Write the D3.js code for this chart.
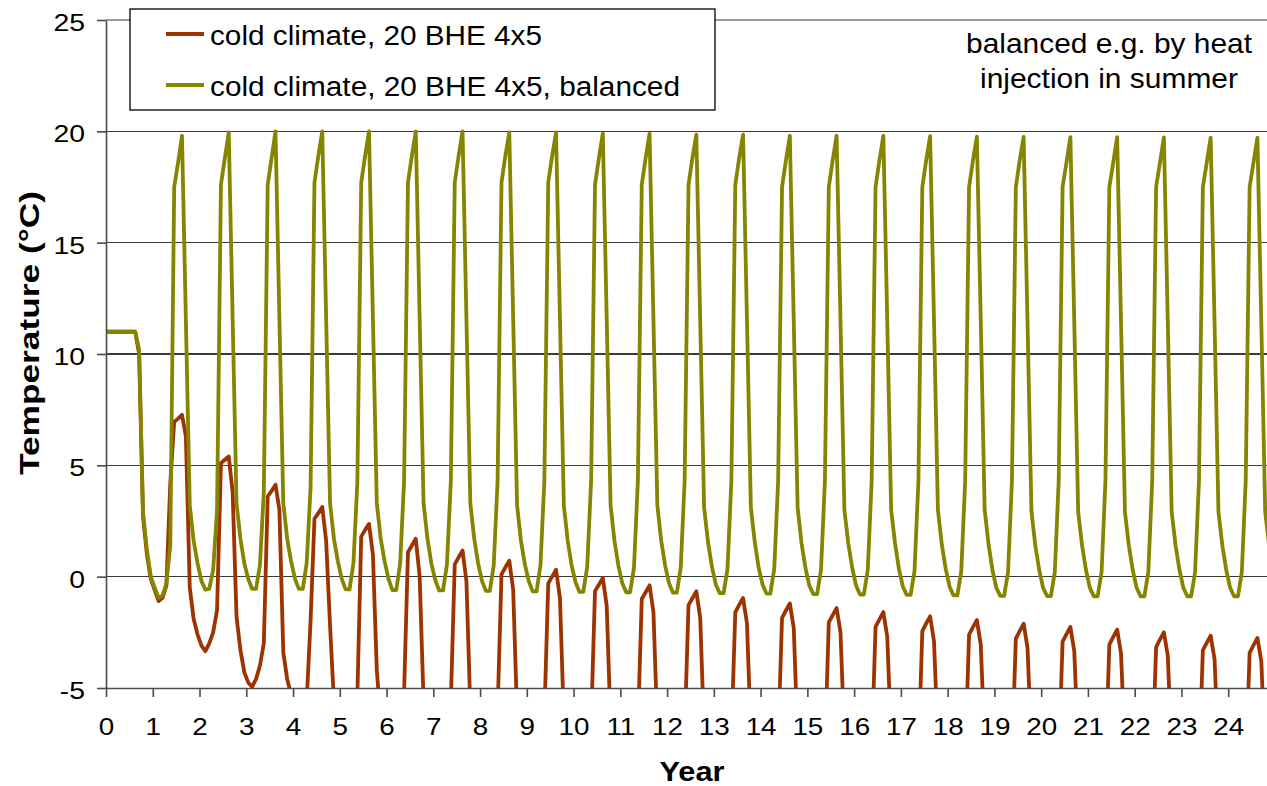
<!DOCTYPE html>
<html><head><meta charset="utf-8">
<script src="https://cdn.jsdelivr.net/npm/d3@7"></script>
<style>
body{margin:0;background:#fff}
svg{display:block}
text{font-family:"Liberation Sans",Arial,sans-serif;fill:#000}
</style>
</head><body>
<svg id="chart" width="1267" height="786"></svg>
<script>
// ---- data ----
const xTickValues = [0,1,2,3,4,5,6,7,8,9,10,11,12,13,14,15,16,17,18,19,20,21,22,23,24];
const yTickValues = [-5,0,5,10,15,20,25];
const startTemp = 11; // value at year 0
// monthly values (12 per year), one row per simulation year
const coldRows = [
  [11,11,11,11,11,11,11,11,10.0,2.7,1.0,-0.1],
  [-0.6,-1.1,-0.95,-0.4,4.2,6.95,7.1,7.27,6.3,-0.5,-1.9,-2.6],
  [-3.1,-3.35,-3.0,-2.5,-1.5,5.1,5.25,5.4,3.8,-1.8,-3.3,-4.3],
  [-4.75,-4.95,-4.6,-4.0,-3.0,3.6,3.85,4.13,3.0,-3.4,-4.6,-5.3],
  [-5.8,-6.0,-5.8,-5.6,-2.0,2.6,2.85,3.13,1.6,-2.2,-5.6,-6.2],
  [-6.8,-7.0,-6.8,-6.3,-5.4,1.8,2.1,2.37,1.0,-4.2,-6.5,-7.0],
  [-7.6,-7.8,-7.6,-6.8,-5.2,1.1,1.4,1.7,0.0,-5.6,-7.0,-7.7],
  [-8.3,-8.5,-8.3,-7.5,-5.6,0.55,0.87,1.17,-0.2,-5.9,-7.6,-8.4],
  [-9.0,-9.1,-8.9,-8.1,-6.0,0.1,0.42,0.72,-0.6,-6.2,-8.0,-8.8],
  [-9.3,-9.5,-9.3,-8.5,-6.3,-0.3,0.0,0.31,-0.95,-6.4,-8.3,-9.1],
  [-9.6,-9.8,-9.6,-8.8,-6.6,-0.65,-0.36,-0.06,-1.3,-6.6,-8.5,-9.3],
  [-9.8,-10.0,-9.8,-9.0,-6.8,-1.0,-0.7,-0.39,-1.6,-6.8,-8.7,-9.5],
  [-10.0,-10.2,-10.0,-9.2,-7.0,-1.28,-0.97,-0.66,-1.85,-7.0,-8.9,-9.7],
  [-10.2,-10.4,-10.2,-9.4,-7.2,-1.6,-1.27,-0.96,-2.1,-7.1,-9.0,-9.8],
  [-10.3,-10.5,-10.3,-9.5,-7.4,-1.85,-1.52,-1.2,-2.3,-7.2,-9.1,-9.9],
  [-10.4,-10.6,-10.4,-9.6,-7.8,-2.05,-1.73,-1.41,-2.5,-7.2,-9.2,-10.0],
  [-10.5,-10.7,-10.5,-9.7,-7.9,-2.25,-1.92,-1.59,-2.7,-7.3,-9.3,-10.1],
  [-10.6,-10.8,-10.6,-9.8,-8.0,-2.45,-2.1,-1.78,-2.9,-7.4,-9.4,-10.2],
  [-10.7,-10.9,-10.7,-9.9,-8.1,-2.6,-2.27,-1.95,-3.05,-7.5,-9.5,-10.3],
  [-10.8,-11.0,-10.8,-10.0,-8.2,-2.78,-2.44,-2.11,-3.2,-7.6,-9.6,-10.4],
  [-10.9,-11.1,-10.9,-10.1,-8.3,-2.92,-2.58,-2.26,-3.35,-7.7,-9.7,-10.5],
  [-11.0,-11.2,-11.0,-10.2,-8.4,-3.05,-2.7,-2.38,-3.45,-7.8,-9.8,-10.6],
  [-11.1,-11.3,-11.1,-10.3,-8.5,-3.17,-2.82,-2.5,-3.55,-7.9,-9.9,-10.7],
  [-11.2,-11.4,-11.2,-10.4,-8.6,-3.3,-2.97,-2.65,-3.7,-8.0,-10.0,-10.8],
  [-11.3,-11.5,-11.3,-10.5,-8.7,-3.42,-3.08,-2.75,-3.8,-8.1,-10.1,-10.9]
];
const balancedRows = [
  [11,11,11,11,11,11,11,11,10.2,2.9,1.2,0.0],
  [-0.5,-0.95,-0.85,-0.3,1.4,17.5,18.6,19.8,11.5,3.2,1.6,0.6],
  [-0.2,-0.58,-0.55,0.3,3.0,17.6,18.8,19.95,11.6,3.3,1.7,0.6],
  [-0.1,-0.55,-0.55,0.5,3.8,17.6,18.8,20.0,11.6,3.3,1.7,0.7],
  [-0.1,-0.55,-0.55,0.6,4.0,17.7,18.9,20.0,11.6,3.3,1.7,0.7],
  [-0.1,-0.57,-0.57,0.6,4.2,17.7,18.9,20.0,11.6,3.3,1.7,0.7],
  [-0.1,-0.6,-0.6,0.6,4.3,17.7,18.9,20.0,11.6,3.3,1.7,0.6],
  [-0.15,-0.62,-0.62,0.55,4.3,17.7,18.9,20.0,11.6,3.3,1.7,0.6],
  [-0.2,-0.64,-0.64,0.5,4.3,17.7,18.9,19.95,11.6,3.2,1.6,0.55],
  [-0.2,-0.66,-0.66,0.5,4.3,17.7,18.9,19.95,11.6,3.2,1.6,0.5],
  [-0.25,-0.68,-0.68,0.45,4.3,17.6,18.8,19.9,11.6,3.2,1.6,0.5],
  [-0.3,-0.7,-0.7,0.4,4.3,17.6,18.8,19.9,11.5,3.2,1.6,0.5],
  [-0.3,-0.72,-0.72,0.4,4.3,17.6,18.8,19.85,11.5,3.1,1.55,0.45],
  [-0.35,-0.74,-0.74,0.35,4.3,17.6,18.8,19.85,11.5,3.1,1.55,0.4],
  [-0.35,-0.76,-0.76,0.35,4.3,17.5,18.7,19.8,11.5,3.1,1.5,0.4],
  [-0.4,-0.78,-0.78,0.3,4.3,17.5,18.7,19.8,11.5,3.0,1.5,0.4],
  [-0.4,-0.8,-0.8,0.3,4.3,17.5,18.7,19.8,11.5,3.0,1.5,0.35],
  [-0.45,-0.82,-0.82,0.25,4.3,17.5,18.7,19.78,11.5,3.0,1.45,0.35],
  [-0.45,-0.84,-0.84,0.25,4.3,17.5,18.7,19.76,11.5,3.0,1.45,0.3],
  [-0.5,-0.86,-0.86,0.2,4.3,17.5,18.7,19.75,11.4,2.95,1.4,0.3],
  [-0.5,-0.87,-0.87,0.2,4.3,17.5,18.6,19.74,11.4,2.9,1.4,0.3],
  [-0.5,-0.88,-0.88,0.2,4.3,17.5,18.6,19.74,11.4,2.9,1.4,0.3],
  [-0.5,-0.88,-0.88,0.2,4.3,17.5,18.6,19.73,11.4,2.9,1.4,0.3],
  [-0.5,-0.88,-0.88,0.2,4.3,17.5,18.6,19.72,11.4,2.9,1.4,0.3],
  [-0.5,-0.88,-0.88,0.2,4.3,17.5,18.6,19.72,11.4,2.9,1.4,0.3]
];
const seriesNames = ["cold climate, 20 BHE 4x5", "cold climate, 20 BHE 4x5, balanced"];
const annotationLines = ["balanced e.g. by heat", "injection in summer"];
const xTitle = "Year";
const yTitle = "Temperature (\u00B0C)";

// ---- styles ----
const seriesColors = ["#9C3300", "#858500"];

// ---- build ----
function toPoints(rows){
  const pts = [{t:0, v:startTemp}];
  rows.forEach((row, n) => row.forEach((v, m) => pts.push({t: n + (m + 0.5) / 12, v})));
  return pts;
}
const series = [toPoints(coldRows), toPoints(balancedRows)];

const svg = d3.select("#chart");
const L = 106, R = 1267, T = 20, B = 688;
const x = d3.scaleLinear().domain([0, 24.83]).range([L, R]);
const y = d3.scaleLinear().domain([-5, 25]).range([B, T]);

svg.append("defs").append("clipPath").attr("id","plotclip")
  .append("rect").attr("x", L).attr("y", T).attr("width", R - L).attr("height", B - T);

// gridlines
svg.append("g").selectAll("line").data(yTickValues.filter(d => d > -5)).join("line")
  .attr("x1", L).attr("x2", R)
  .attr("y1", d => y(d)).attr("y2", d => y(d))
  .attr("stroke", d => d === 25 ? "#9a9a9a" : "#3a3a3a")
  .attr("stroke-width", d => d === 25 ? 1.2 : 1.5)
  .attr("shape-rendering","crispEdges");

// lines
const line = d3.line().x(d => x(d.t)).y(d => y(d.v));
const gLines = svg.append("g").attr("clip-path","url(#plotclip)");
series.forEach((s, i) => {
  gLines.append("path").datum(s)
    .attr("fill","none").attr("stroke", seriesColors[i])
    .attr("stroke-width", 3.8).attr("stroke-linejoin","round").attr("stroke-linecap","round")
    .attr("d", line);
});

function stretchText(sel, sx){
  sel.each(function(){
    const t = d3.select(this);
    const tx = +t.attr("x") || 0, ty = +t.attr("y") || 0;
    t.attr("x", 0).attr("y", 0).attr("transform", `translate(${tx},${ty}) scale(${sx},1)`);
  });
}

// y axis
const yAxis = svg.append("g").attr("transform", `translate(${L},0)`)
  .call(d3.axisLeft(y).tickValues(yTickValues).tickSize(9).tickSizeOuter(0).tickPadding(12).tickFormat(d => String(d)));
yAxis.select(".domain").attr("stroke","#4a4a4a").attr("stroke-width",1.6);
yAxis.selectAll(".tick line").attr("stroke","#4a4a4a").attr("stroke-width",1.6);
yAxis.selectAll("text").attr("font-size",24).attr("dy","0.44em").style("font-family",'"Liberation Sans",Arial,sans-serif');
stretchText(yAxis.selectAll("text"), 1.18);

// x axis
const xAxis = svg.append("g").attr("transform", `translate(0,${B})`)
  .call(d3.axisBottom(x).tickValues(xTickValues).tickSize(9).tickSizeOuter(0).tickPadding(21).tickFormat(d => String(d)));
xAxis.select(".domain").attr("stroke","#4a4a4a").attr("stroke-width",1.6);
xAxis.selectAll(".tick line").attr("stroke","#4a4a4a").attr("stroke-width",1.6);
xAxis.selectAll("text").attr("font-size",24).style("font-family",'"Liberation Sans",Arial,sans-serif');
stretchText(xAxis.selectAll("text"), 1.16);

// axis titles
svg.append("text").attr("x", 692).attr("y", 781).attr("text-anchor","middle")
  .attr("font-size",28).attr("font-weight","bold").attr("textLength",65).attr("lengthAdjust","spacingAndGlyphs")
  .text(xTitle);
svg.append("text").attr("transform","translate(39,333) rotate(-90)").attr("text-anchor","middle")
  .attr("font-size",28).attr("font-weight","bold").attr("textLength",284).attr("lengthAdjust","spacingAndGlyphs")
  .text(yTitle);

// legend
const lg = svg.append("g");
lg.append("rect").attr("x",130).attr("y",9).attr("width",585).attr("height",101)
  .attr("fill","#fff").attr("stroke","#000").attr("stroke-width",1.3);
const legendY = [34, 85], legendLen = [332, 470];
seriesNames.forEach((name, i) => {
  lg.append("line").attr("x1",166).attr("x2",204).attr("y1",legendY[i]).attr("y2",legendY[i])
    .attr("stroke", seriesColors[i]).attr("stroke-width",4);
  lg.append("text").attr("x",210).attr("y",legendY[i] + 11)
    .attr("font-size",27).attr("textLength",legendLen[i]).attr("lengthAdjust","spacingAndGlyphs")
    .text(name);
});

// annotation
const annY = [53, 88], annLen = [286, 258];
annotationLines.forEach((s, i) => {
  svg.append("text").attr("x",1109).attr("y",annY[i]).attr("text-anchor","middle")
    .attr("font-size",28).attr("textLength",annLen[i]).attr("lengthAdjust","spacingAndGlyphs")
    .text(s);
});
</script>
</body></html>
